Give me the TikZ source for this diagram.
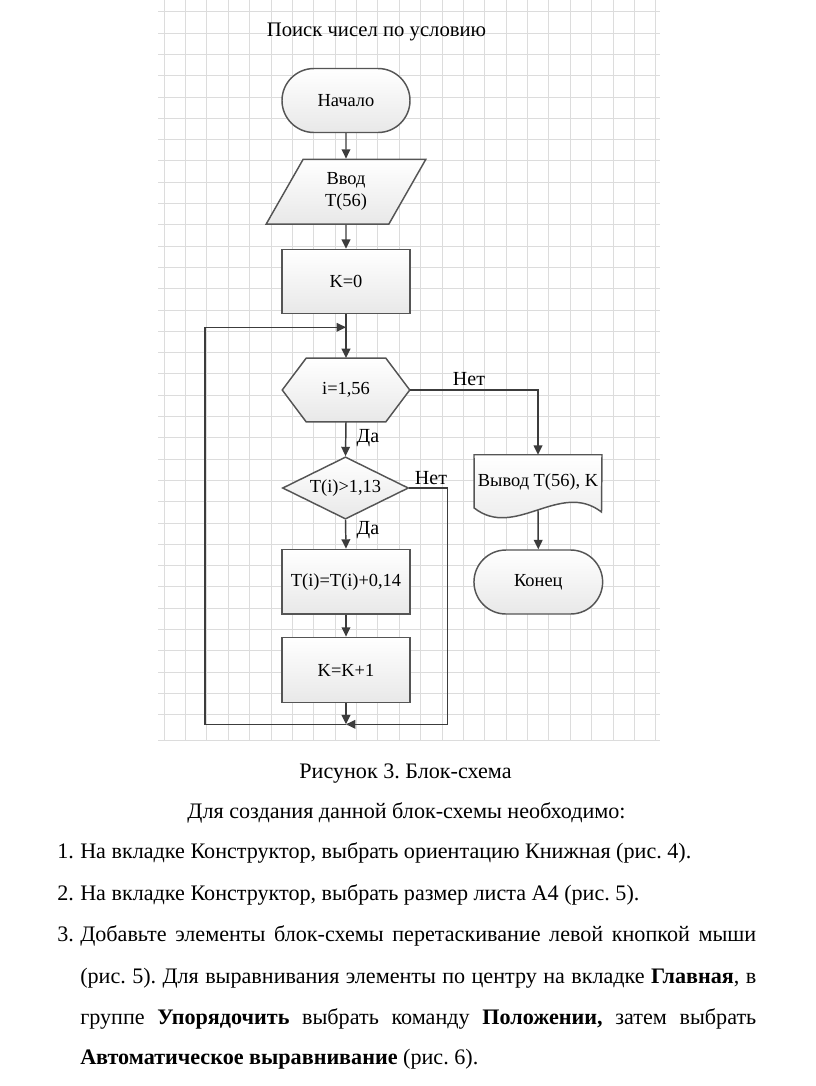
\documentclass[tikz,border=0pt]{standalone}
\usepackage{fontspec}
\setmainfont{Liberation Serif}
\usetikzlibrary{arrows.meta,shapes.geometric,calc}
\definecolor{gridc}{HTML}{DCDCDC}
\definecolor{linec}{HTML}{3C3C3C}
\definecolor{borderc}{HTML}{555555}
\pgfdeclarelayer{gridl}
\pgfdeclarelayer{shapel}
\pgfsetlayers{gridl,shapel,main}
\frenchspacing
\tikzset{
  gridline/.style={draw=gridc, line width=0.6pt},
  shapefill/.style={draw=borderc, line width=1.1pt, top color=white, bottom color=black!9},
  flowtext/.style={font=\fontsize{13.8}{16.5}\selectfont, align=center, inner sep=0pt},
  conn/.style={draw=linec, line width=1.1pt, -{Triangle[length=7pt,width=6.5pt]}},
  lbl/.style={font=\fontsize{15}{17}\selectfont, inner sep=0pt},
  bodytext/.style={font=\fontsize{16.6}{19}\selectfont, inner sep=0pt, anchor=base west},
  bodycenter/.style={font=\fontsize{16.6}{19}\selectfont, inner sep=0pt, anchor=base},
}
\begin{document}
\begin{tikzpicture}[x=0.75pt,y=-0.75pt]
\useasboundingbox (0,0) rectangle (816,1086);

% background and grid
\begin{pgfonlayer}{gridl}
\fill[white] (0,0) rectangle (816,1086);
\foreach \k in {0,...,33} \draw[gridline] (158,{11.7+21.3*\k}) -- (660,{11.7+21.3*\k});
\draw[gridline] (158,740) -- (660,740);
\foreach \k in {0,...,23} \draw[gridline] ({164+21.38*\k},0) -- ({164+21.38*\k},740);
\end{pgfonlayer}

% title
\node[font=\fontsize{15.5}{18}\selectfont, inner sep=0pt] (title) at (376.5,32) {Поиск чисел по условию};

% nodes
\node[shapefill, flowtext, rectangle, rounded corners=24pt, minimum width=96pt, minimum height=48pt] (start) at (346,100.5) {Начало};
\node[shapefill, flowtext, trapezium, trapezium left angle=64.6, trapezium right angle=115.4, trapezium stretches=true, minimum width=119.8pt, minimum height=48.5pt] (input) at (346,191.7) {Ввод\\T(56)};
\node[shapefill, flowtext, rectangle, minimum width=96.2pt, minimum height=48pt] (k0) at (346,281.5) {K=0};

\node[flowtext, rectangle, minimum width=95.25pt, minimum height=47.5pt] (hex) at (346,390) {i=1,56};
\begin{pgfonlayer}{shapel}
\path[shapefill] (hex.west) -- ($(hex.north west)+(24,0)$) -- ($(hex.north east)+(-24,0)$) -- (hex.east) -- ($(hex.south east)+(-24,0)$) -- ($(hex.south west)+(24,0)$) -- cycle;
\end{pgfonlayer}

\node[shapefill, flowtext, diamond, aspect=2, minimum width=94.5pt, minimum height=46.7pt] (diam) at (345.5,488) {T(i)>1,13};
\node[shapefill, flowtext, rectangle, minimum width=96.2pt, minimum height=48.5pt] (calc) at (346,581.7) {T(i)=T(i)+0,14};
\node[shapefill, flowtext, rectangle, minimum width=96.2pt, minimum height=49pt] (inc) at (346,670) {K=K+1};

\node[flowtext, rectangle, minimum width=95.6pt, minimum height=41.25pt] (doc) at (538,482.5) {Вывод T(56), K};
\begin{pgfonlayer}{shapel}
\path[shapefill] (doc.north west) -- (doc.north east) -- (601.5,512) .. controls (560,480) and (515,540) .. (474.2,508) -- cycle;
\end{pgfonlayer}
\coordinate (docb) at (538,510);

\node[shapefill, flowtext, rectangle, rounded corners=24pt, minimum width=96.5pt, minimum height=48pt] (end) at (538.3,582) {Конец};

% junctions
\coordinate (j1) at (346,327.3);
\coordinate (j2) at (346,724.3);

% connectors
\draw[conn] (start.south) -- (input.north);
\draw[conn] (input.south) -- (k0.north);
\draw[conn] (k0.south) -- (hex.north);
\draw[conn] (hex.south) -- (diam.north);
\draw[conn] (hex.east) -| (doc.north);
\draw[conn] (diam.south) -- (calc.north);
\draw[conn] (diam.east) -- (447.3,488) -- (447.3,724.3) -- (j2);
\draw[conn] (calc.south) -- (inc.north);
\draw[conn] (inc.south) -- (j2);
\draw[conn] (j2) -- (205,724.3) -- (205,327.3) -- (j1);
\draw[conn] (docb) -- (end.north);

% labels
\node[lbl] (no1) at (469,379) {Нет};
\node[lbl] (yes1) at (368,438.5) {Да};
\node[lbl] (no2) at (431,478) {Нет};
\node[lbl] (yes2) at (368,530) {Да};

% body text
\node[bodycenter] (cap) at (405.5,778) {Рисунок 3. Блок-схема};
\node[bodycenter] (intro) at (406.5,818.3) {Для создания данной блок-схемы необходимо:};
\node[bodytext] (n1) at (57,858.5) {1.};
\node[bodytext] (l1) at (80,858.5) {На вкладке Конструктор, выбрать ориентацию Книжная (рис. 4).};
\node[bodytext] (n2) at (57,900) {2.};
\node[bodytext] (l2) at (80,900) {На вкладке Конструктор, выбрать размер листа А4 (рис. 5).};
\node[bodytext] (n3) at (57,941.5) {3.};
\node[bodytext] (l3) at (80,941.5) {\makebox[507pt][s]{Добавьте элементы блок-схемы перетаскивание левой кнопкой мыши}};
\node[bodytext] (l4) at (80,983) {\makebox[507pt][s]{(рис. 5). Для выравнивания элементы по центру на вкладке \textbf{Главная}, в}};
\node[bodytext] (l5) at (80,1024) {\makebox[507pt][s]{группе \textbf{Упорядочить} выбрать команду \textbf{Положении,} затем выбрать}};
\node[bodytext] (l6) at (80,1064) {\textbf{Автоматическое выравнивание} (рис. 6).};
\end{tikzpicture}
\end{document}
